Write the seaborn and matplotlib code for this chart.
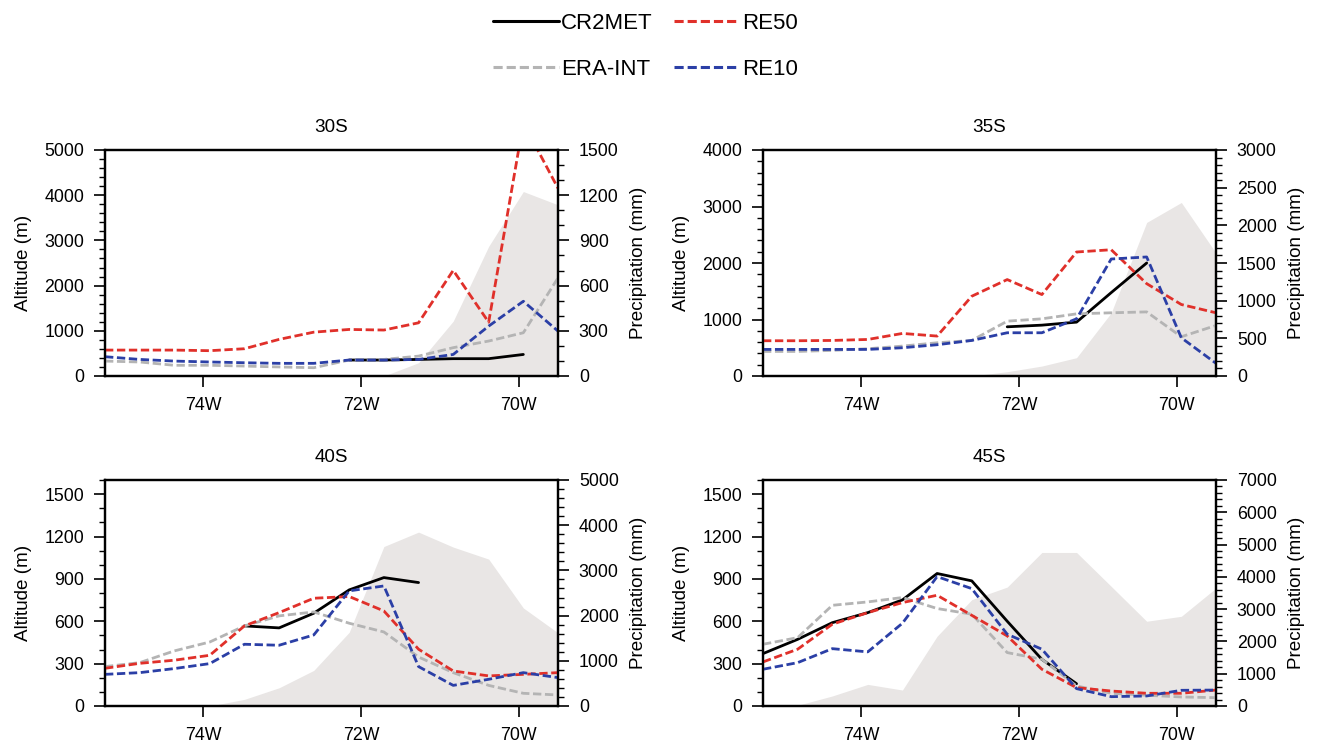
import numpy as np
import pandas as pd
import matplotlib
matplotlib.use("Agg")
import matplotlib.pyplot as plt
from matplotlib.ticker import MultipleLocator, FixedLocator
from matplotlib.lines import Line2D
import seaborn as sns

# Longitudes of the zonal cross-section (degrees east)
lons = [-75.25, -74.81, -74.37, -73.92, -73.48, -73.04, -72.60,
        -72.15, -71.71, -71.27, -70.83, -70.38, -69.94, -69.50]

nan = np.nan

# 30S: topography (m) and annual precipitation (mm)
topo_30 = [0, 0, 0, 0, 0, 0, 0, 0, 0, 294, 1213, 2868, 4081, 3787]
cr2met_30 = [nan, nan, nan, nan, nan, nan, nan, 106, 106, 110, 115, 115, 143, nan]
eraint_30 = [99, 93, 71, 71, 66, 60, 55, 106, 110, 132, 188, 232, 287, 651]
re50_30 = [172, 172, 172, 168, 181, 243, 291, 309, 305, 353, 701, 357, 1680, 1246]
re10_30 = [128, 110, 99, 93, 88, 84, 84, 106, 106, 110, 143, 331, 496, 298]

# 35S
topo_35 = [0, 0, 0, 0, 0, 0, 0, 76, 176, 324, 1118, 2718, 3071, 2176]
cr2met_35 = [nan, nan, nan, nan, nan, nan, nan, 653, 675, 715, 1107, 1500, nan, nan]
eraint_35 = [326, 326, 340, 362, 397, 441, 472, 728, 759, 825, 839, 851, 521, 671]
re50_35 = [468, 468, 472, 485, 565, 530, 1059, 1280, 1081, 1646, 1676, 1226, 949, 839]
re10_35 = [353, 353, 353, 353, 375, 415, 472, 574, 574, 759, 1553, 1580, 507, 168]

# 40S
topo_40 = [0, 0, 0, 0, 47, 129, 252, 522, 1129, 1231, 1125, 1040, 694, 518]
cr2met_40 = [nan, nan, nan, nan, 1772, 1728, 2053, 2569, 2841, 2731, nan, nan, nan, nan]
eraint_40 = [872, 959, 1219, 1416, 1772, 1994, 2081, 1831, 1638, 1084, 738, 456, 281, 244]
re50_40 = [834, 944, 1013, 1122, 1772, 2066, 2384, 2422, 2103, 1256, 775, 666, 700, 738]
re10_40 = [700, 738, 828, 938, 1366, 1344, 1572, 2547, 2656, 872, 456, 591, 738, 628]

# 45S
topo_45 = [0, 5, 71, 153, 113, 494, 753, 842, 1087, 1087, 847, 600, 635, 835]
cr2met_45 = [1623, 2065, 2581, 2892, 3286, 4104, 3876, 2625, 1444, 691, nan, nan, nan, nan]
eraint_45 = [1912, 2118, 3119, 3224, 3360, 3019, 2844, 1654, 1448, 621, 394, 333, 280, 258]
re50_45 = [1365, 1759, 2533, 2892, 3203, 3430, 2809, 2170, 1138, 569, 464, 394, 394, 494]
re10_45 = [1138, 1343, 1776, 1676, 2564, 4008, 3636, 2223, 1759, 538, 289, 311, 486, 494]

x_ticks = [-74, -72, -70]
x_ticklabels = ["74W", "72W", "70W"]

panels = [
    dict(title="30S", topo=topo_30, cr2met=cr2met_30, eraint=eraint_30, re50=re50_30, re10=re10_30,
         alt_lim=5000, alt_major=1000, alt_minor=200, pr_lim=1500, pr_major=300, pr_minor=100),
    dict(title="35S", topo=topo_35, cr2met=cr2met_35, eraint=eraint_35, re50=re50_35, re10=re10_35,
         alt_lim=4000, alt_major=1000, alt_minor=200, pr_lim=3000, pr_major=500, pr_minor=100),
    dict(title="40S", topo=topo_40, cr2met=cr2met_40, eraint=eraint_40, re50=re50_40, re10=re10_40,
         alt_lim=1600, alt_major=300, alt_minor=100, pr_lim=5000, pr_major=1000, pr_minor=200),
    dict(title="45S", topo=topo_45, cr2met=cr2met_45, eraint=eraint_45, re50=re50_45, re10=re10_45,
         alt_lim=1600, alt_major=300, alt_minor=100, pr_lim=7000, pr_major=1000, pr_minor=200),
]

dash = (0, (3.0, 1.3))
series_style = {
    "CR2MET": dict(color="#000000", ls="-"),
    "ERA-INT": dict(color="#b4b4b4", ls=dash),
    "RE50": dict(color="#e0302a", ls=dash),
    "RE10": dict(color="#2b3fa6", ls=dash),
}
series_keys = {"CR2MET": "cr2met", "ERA-INT": "eraint", "RE50": "re50", "RE10": "re10"}

sns.set_style("ticks")
plt.rcParams["font.family"] = ["Liberation Sans", "DejaVu Sans"]
plt.rcParams.update({
    "font.size": 13,
    "text.color": "black",
    "axes.labelcolor": "black",
    "axes.edgecolor": "black",
    "xtick.color": "black",
    "ytick.color": "black",
})

fig = plt.figure(figsize=(13.2, 7.48), dpi=100)
W, H = 1320, 748
boxes = [(105, 150), (763, 150), (105, 480), (763, 480)]
aw, ah = 453, 226

shade_color = "#e9e6e5"
spine_w = 1.6
fs_lab = 13.6
fs_tick = 12.8
fs_leg = 16

for p, (px, py) in zip(panels, boxes):
    ax = fig.add_axes([px / W, 1 - (py + ah) / H, aw / W, ah / H])
    ax.fill_between(lons, 0, p["topo"], color=shade_color, lw=0, zorder=1)
    ax.set_xlim(lons[0], lons[-1])
    ax.set_ylim(0, p["alt_lim"])
    ax.yaxis.set_major_locator(FixedLocator(np.arange(0, p["alt_lim"] + 1, p["alt_major"])))
    ax.yaxis.set_minor_locator(MultipleLocator(p["alt_minor"]))
    ax.set_xticks(x_ticks)
    ax.set_xticklabels(x_ticklabels)
    ax.set_ylabel("Altitude (m)", labelpad=9, fontsize=fs_lab)
    ax.set_title(p["title"], fontsize=fs_lab, pad=13)

    tw = ax.twinx()
    df = pd.DataFrame({"lon": lons})
    for name, key in series_keys.items():
        df[name] = p[key]
    long = df.melt(id_vars="lon", var_name="source", value_name="pr").dropna()
    for name in series_keys:
        st = series_style[name]
        sns.lineplot(data=long[long["source"] == name], x="lon", y="pr", ax=tw,
                     color=st["color"], linestyle=st["ls"], lw=2.0, legend=False,
                     estimator=None, sort=True)
    tw.set_xlim(lons[0], lons[-1])
    tw.set_ylim(0, p["pr_lim"])
    tw.yaxis.set_major_locator(MultipleLocator(p["pr_major"]))
    tw.yaxis.set_minor_locator(MultipleLocator(p["pr_minor"]))
    tw.set_xlabel("")
    tw.set_ylabel("Precipitation (mm)", labelpad=8, fontsize=fs_lab)

    for a in (ax, tw):
        for s in a.spines.values():
            s.set_linewidth(spine_w)
            s.set_visible(True)
        a.tick_params(which="major", direction="out", length=8, width=1.2, pad=7, labelsize=fs_tick)
        a.tick_params(which="minor", direction="out", length=4.5, width=1.0)
    ax.tick_params(axis="x", which="both", top=False)
    ax.tick_params(axis="y", which="both", right=False)

handles = [Line2D([], [], color=series_style[n]["color"], ls=series_style[n]["ls"], lw=2.2)
           for n in ["CR2MET", "ERA-INT", "RE50", "RE10"]]
fig.legend(handles, ["CR2MET", "ERA-INT", "RE50", "RE10"], ncol=2, frameon=False,
           loc="upper center", bbox_to_anchor=(0.489, 1.009), fontsize=fs_leg,
           handlelength=2.95, handletextpad=0.1, columnspacing=0.95, labelspacing=1.1)

fig.savefig("out.png", dpi=100)
